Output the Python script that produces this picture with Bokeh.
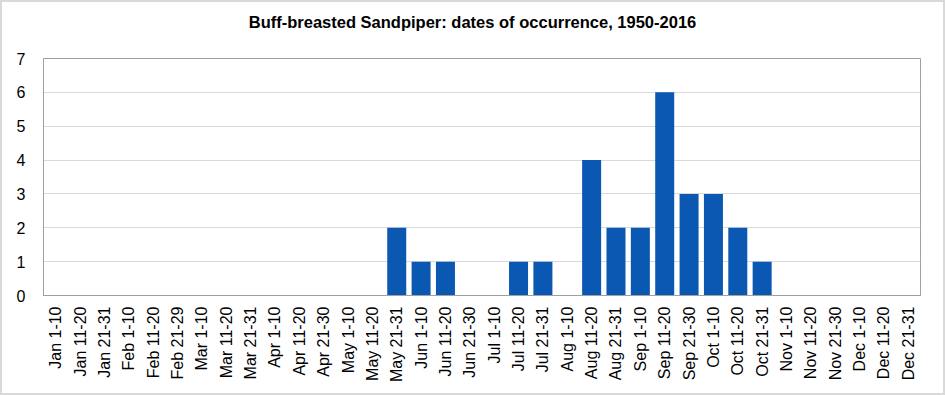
from bokeh.plotting import figure
from bokeh.models import Range1d, FactorRange, FixedTicker, ColumnDataSource, Div
from bokeh.layouts import column
from bokeh.embed import file_html
from bokeh.resources import INLINE
import math

periods = ["Jan 1-10", "Jan 11-20", "Jan 21-31", "Feb 1-10", "Feb 11-20", "Feb 21-29",
           "Mar 1-10", "Mar 11-20", "Mar 21-31", "Apr 1-10", "Apr 11-20", "Apr 21-30",
           "May 1-10", "May 11-20", "May 21-31", "Jun 1-10", "Jun 11-20", "Jun 21-30",
           "Jul 1-10", "Jul 11-20", "Jul 21-31", "Aug 1-10", "Aug 11-20", "Aug 21-31",
           "Sep 1-10", "Sep 11-20", "Sep 21-30", "Oct 1-10", "Oct 11-20", "Oct 21-31",
           "Nov 1-10", "Nov 11-20", "Nov 21-30", "Dec 1-10", "Dec 11-20", "Dec 21-31"]
counts = [0, 0, 0, 0, 0, 0,
          0, 0, 0, 0, 0, 0,
          0, 0, 2, 1, 1, 0,
          0, 1, 1, 0, 4, 2,
          2, 6, 3, 3, 2, 1,
          0, 0, 0, 0, 0, 0]
y_ticks = [0, 1, 2, 3, 4, 5, 6, 7]
title_text = "Buff-breasted Sandpiper: dates of occurrence, 1950-2016"

FONT = "Liberation Sans"
TITLE_H = 40

header = Div(text=title_text, width=941, height=TITLE_H,
             styles={"font-family": FONT, "font-weight": "bold", "font-size": "16.5px",
                     "text-align": "center", "line-height": f"{TITLE_H}px", "color": "black",
                     "background-color": "white", "margin": "0", "padding": "0"})

p = figure(width=941, height=391 - TITLE_H, output_backend="svg", toolbar_location=None,
           x_range=FactorRange(*periods, range_padding=0),
           y_range=Range1d(0, 7),
           min_border_left=41, min_border_right=23, min_border_top=56 - TITLE_H,
           min_border_bottom=98)

src = ColumnDataSource(dict(x=periods, top=counts))
p.vbar(x="x", top="top", width=0.78, source=src, fill_color="#0B58B3", line_color=None)

p.outline_line_color = "#A0A0A0"
p.outline_line_width = 1
p.background_fill_color = "white"
p.border_fill_color = "white"

p.xgrid.grid_line_color = None
p.ygrid.grid_line_color = "#D9D9D9"
p.ygrid.ticker = FixedTicker(ticks=y_ticks)

p.yaxis.ticker = FixedTicker(ticks=y_ticks)
for ax in (p.xaxis, p.yaxis):
    ax.axis_line_color = "#A0A0A0"
    ax.major_tick_line_color = None
    ax.minor_tick_line_color = None
    ax.major_label_text_font = FONT
    ax.major_label_text_font_size = "16px"
    ax.major_label_text_color = "black"
p.yaxis.major_label_standoff = 12
p.xaxis.major_label_standoff = 5
p.xaxis.major_label_orientation = math.pi / 2

layout = column(header, p, spacing=0,
                styles={"border": "2px solid #D9D9D9", "background-color": "white"})

open("out.html", "w").write(file_html(layout, INLINE))
